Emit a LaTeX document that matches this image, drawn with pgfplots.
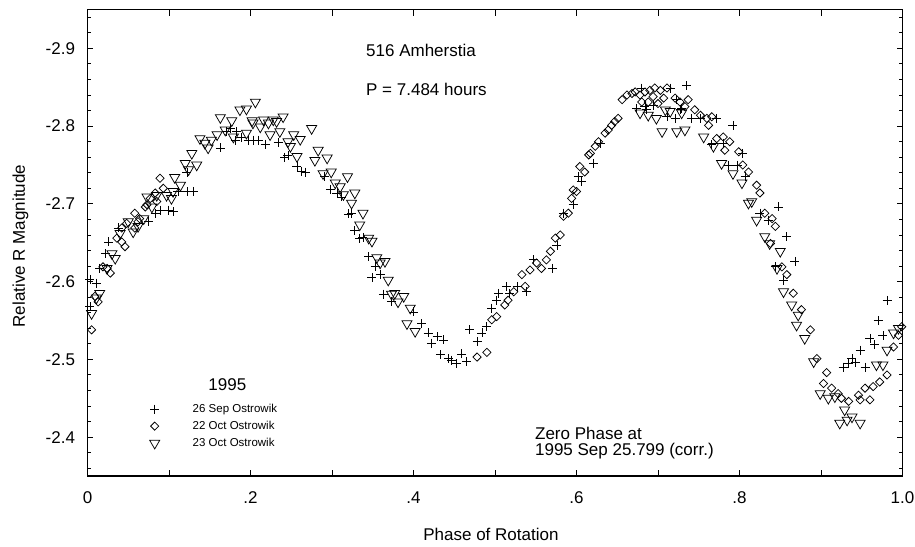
\documentclass[border=0pt]{standalone}
\usepackage{fontspec}
\setmainfont{Liberation Sans}
\usepackage{pgfplots}
\pgfplotsset{compat=1.18}
\pgfplotsset{mylegimg/.style={legend image code/.code={\path[draw=none,fill=none] (0pt,-1pt) rectangle (48.5pt,1pt); \draw[mark repeat=2,mark phase=2,##1] plot coordinates {(0pt,0pt) (12pt,0pt) (48.5pt,0pt)};}}}
\begin{document}
\begin{tikzpicture}[font=\fontsize{17}{20}\selectfont]
\useasboundingbox (0,0) rectangle (915pt,546pt);
\begin{axis}[
  at={(87.5pt,70pt)}, anchor=south west,
  scale only axis, width=815pt, height=466.5pt,
  xmin=0, xmax=1, ymin=-2.95, ymax=-2.35, y dir=reverse,
  axis line style={line width=1.4pt},
  tick align=inside,
  major tick length=6pt, minor tick length=4pt,
  tick style={line width=0.9pt, black},
  xtick={0,0.1,0.2,0.3,0.4,0.5,0.6,0.7,0.8,0.9,1},
  xticklabels={0,,.2,,.4,,.6,,.8,,1.0},
  ytick={-2.9,-2.8,-2.7,-2.6,-2.5,-2.4},
  yticklabels={-2.9,-2.8,-2.7,-2.6,-2.5,-2.4},
  minor ytick={-2.94,-2.92,-2.88,-2.86,-2.84,-2.82,-2.78,-2.76,-2.74,-2.72,-2.68,-2.66,-2.64,-2.62,-2.58,-2.56,-2.54,-2.52,-2.48,-2.46,-2.44,-2.42,-2.38,-2.36},
  tick label style={font=\fontsize{17}{20}\selectfont},
  xticklabel style={yshift=-12pt},
  yticklabel style={xshift=-9pt},
  xlabel={Phase of Rotation},
  ylabel={Relative R Magnitude},
  label style={font=\fontsize{17}{20}\selectfont},
  xlabel style={at={(axis description cs:0.495,-0.1393)}, anchor=base},
  ylabel style={at={(axis description cs:-0.0767,0.493)}, anchor=base},
  legend cell align=left,
  legend style={draw=none, fill=none, inner sep=0pt, at={(axis description cs:0.0675,0.1576)}, anchor=north west,
    font=\fontsize{11.5}{13}\selectfont, row sep=4.2pt, nodes={inner sep=1.5pt}},
]
\addplot[only marks, mylegimg, mark=+, mark size=4.5pt, line width=0.75pt, black] coordinates {
(0.003,-2.568) (0.003,-2.603) (0.011,-2.598) (0.015,-2.617) (0.022,-2.636) (0.026,-2.651) (0.038,-2.669) (0.075,-2.677) (0.083,-2.688) (0.089,-2.692) (0.099,-2.692) (0.105,-2.690) (0.111,-2.716) (0.122,-2.716) (0.130,-2.716) (0.122,-2.741) (0.163,-2.772) (0.171,-2.793) (0.175,-2.797) (0.183,-2.793) (0.189,-2.786) (0.181,-2.782) (0.197,-2.782) (0.203,-2.782) (0.210,-2.782) (0.218,-2.777) (0.234,-2.779) (0.242,-2.760) (0.246,-2.762) (0.257,-2.748) (0.263,-2.742) (0.267,-2.741) (0.291,-2.735) (0.298,-2.719) (0.306,-2.714) (0.312,-2.709) (0.320,-2.687) (0.324,-2.688) (0.328,-2.666) (0.334,-2.656) (0.338,-2.657) (0.345,-2.632) (0.353,-2.619) (0.359,-2.609) (0.349,-2.605) (0.363,-2.584) (0.373,-2.575) (0.400,-2.561) (0.410,-2.546) (0.418,-2.534) (0.429,-2.529) (0.437,-2.525) (0.422,-2.521) (0.433,-2.506) (0.443,-2.501) (0.447,-2.499) (0.453,-2.495) (0.459,-2.507) (0.465,-2.497) (0.469,-2.538) (0.478,-2.523) (0.484,-2.534) (0.490,-2.542) (0.496,-2.566) (0.502,-2.576) (0.504,-2.585) (0.514,-2.594) (0.518,-2.585) (0.527,-2.594) (0.539,-2.587) (0.547,-2.628) (0.570,-2.617) (0.576,-2.647) (0.584,-2.688) (0.596,-2.699) (0.606,-2.729) (0.602,-2.735) (0.621,-2.752) (0.629,-2.778) (0.680,-2.849) (0.715,-2.849) (0.735,-2.852) (0.674,-2.823) (0.684,-2.825) (0.694,-2.827) (0.686,-2.821) (0.711,-2.812) (0.721,-2.810) (0.723,-2.834) (0.727,-2.821) (0.729,-2.823) (0.741,-2.810) (0.752,-2.810) (0.772,-2.810) (0.792,-2.801) (0.766,-2.776) (0.780,-2.778) (0.786,-2.750) (0.797,-2.750) (0.807,-2.735) (0.804,-2.765) (0.825,-2.688) (0.848,-2.696) (0.835,-2.679) (0.858,-2.658) (0.844,-2.619) (0.868,-2.626) (0.854,-2.602) (0.927,-2.490) (0.934,-2.495) (0.938,-2.501) (0.942,-2.496) (0.954,-2.490) (0.948,-2.512) (0.960,-2.527) (0.966,-2.519) (0.976,-2.531) (0.970,-2.550) (0.981,-2.576)
};
\addlegendentry{26 Sep Ostrowik}
\addplot[only marks, mylegimg, mark=square, mark options={rotate=45}, mark size=2.9pt, line width=0.75pt, black] coordinates {
(0.005,-2.538) (0.009,-2.581) (0.013,-2.574) (0.019,-2.619) (0.024,-2.617) (0.028,-2.611) (0.036,-2.656) (0.042,-2.651) (0.046,-2.645) (0.042,-2.669) (0.048,-2.675) (0.058,-2.669) (0.062,-2.677) (0.058,-2.688) (0.064,-2.681) (0.071,-2.696) (0.073,-2.699) (0.077,-2.707) (0.083,-2.714) (0.085,-2.703) (0.089,-2.733) (0.093,-2.720) (0.478,-2.503) (0.490,-2.509) (0.496,-2.551) (0.502,-2.555) (0.512,-2.570) (0.516,-2.576) (0.523,-2.587) (0.533,-2.609) (0.537,-2.594) (0.543,-2.615) (0.551,-2.624) (0.557,-2.617) (0.563,-2.628) (0.568,-2.639) (0.574,-2.656) (0.580,-2.660) (0.584,-2.684) (0.590,-2.688) (0.594,-2.707) (0.600,-2.716) (0.596,-2.718) (0.604,-2.748) (0.610,-2.741) (0.615,-2.763) (0.617,-2.765) (0.623,-2.774) (0.627,-2.780) (0.635,-2.791) (0.639,-2.795) (0.643,-2.801) (0.647,-2.806) (0.651,-2.810) (0.656,-2.834) (0.662,-2.840) (0.668,-2.842) (0.672,-2.844) (0.678,-2.840) (0.684,-2.844) (0.690,-2.846) (0.696,-2.849) (0.703,-2.846) (0.707,-2.836) (0.711,-2.849) (0.688,-2.831) (0.694,-2.838) (0.680,-2.831) (0.700,-2.829) (0.721,-2.836) (0.727,-2.831) (0.733,-2.825) (0.737,-2.834) (0.745,-2.821) (0.752,-2.814) (0.760,-2.810) (0.766,-2.812) (0.762,-2.801) (0.772,-2.784) (0.780,-2.786) (0.788,-2.780) (0.782,-2.769) (0.799,-2.767) (0.804,-2.750) (0.811,-2.741) (0.821,-2.724) (0.825,-2.714) (0.831,-2.688) (0.840,-2.681) (0.844,-2.671) (0.838,-2.649) (0.852,-2.619) (0.858,-2.609) (0.866,-2.585) (0.876,-2.564) (0.887,-2.538) (0.895,-2.501) (0.907,-2.483) (0.903,-2.469) (0.913,-2.463) (0.921,-2.456) (0.925,-2.450) (0.934,-2.446) (0.946,-2.454) (0.954,-2.463) (0.948,-2.448) (0.960,-2.448) (0.964,-2.465) (0.972,-2.471) (0.981,-2.480) (0.989,-2.516) (0.995,-2.531) (0.999,-2.542)
};
\addlegendentry{22 Oct Ostrowik}
\addplot[only marks, mylegimg, mark=triangle, mark options={rotate=180}, mark size=5.8pt, line width=0.75pt, black] coordinates {
(0.005,-2.559) (0.011,-2.579) (0.015,-2.585) (0.024,-2.617) (0.030,-2.636) (0.034,-2.630) (0.040,-2.662) (0.050,-2.677) (0.056,-2.664) (0.062,-2.671) (0.069,-2.681) (0.073,-2.709) (0.079,-2.696) (0.085,-2.711) (0.097,-2.711) (0.103,-2.707) (0.105,-2.716) (0.107,-2.734) (0.114,-2.724) (0.120,-2.752) (0.124,-2.744) (0.128,-2.765) (0.134,-2.750) (0.138,-2.784) (0.144,-2.778) (0.148,-2.772) (0.152,-2.782) (0.159,-2.789) (0.163,-2.811) (0.169,-2.795) (0.177,-2.807) (0.187,-2.821) (0.195,-2.822) (0.202,-2.807) (0.206,-2.831) (0.179,-2.786) (0.195,-2.791) (0.203,-2.804) (0.216,-2.808) (0.228,-2.808) (0.240,-2.812) (0.236,-2.793) (0.253,-2.789) (0.212,-2.799) (0.224,-2.789) (0.222,-2.804) (0.232,-2.806) (0.246,-2.780) (0.261,-2.783) (0.249,-2.774) (0.257,-2.761) (0.275,-2.797) (0.283,-2.769) (0.279,-2.756) (0.294,-2.759) (0.289,-2.739) (0.299,-2.741) (0.304,-2.727) (0.310,-2.722) (0.314,-2.712) (0.319,-2.735) (0.328,-2.714) (0.324,-2.701) (0.338,-2.688) (0.334,-2.673) (0.345,-2.656) (0.349,-2.652) (0.355,-2.631) (0.359,-2.624) (0.365,-2.626) (0.369,-2.602) (0.373,-2.584) (0.377,-2.585) (0.381,-2.574) (0.388,-2.581) (0.396,-2.566) (0.392,-2.546) (0.402,-2.536) (0.678,-2.817) (0.688,-2.814) (0.698,-2.810) (0.709,-2.821) (0.705,-2.793) (0.723,-2.793) (0.733,-2.795) (0.715,-2.819) (0.729,-2.817) (0.756,-2.786) (0.768,-2.774) (0.778,-2.752) (0.792,-2.739) (0.803,-2.727) (0.811,-2.701) (0.815,-2.703) (0.821,-2.679) (0.831,-2.658) (0.837,-2.649) (0.850,-2.639) (0.846,-2.617) (0.854,-2.587) (0.864,-2.570) (0.872,-2.557) (0.870,-2.544) (0.880,-2.527) (0.891,-2.497) (0.899,-2.456) (0.909,-2.450) (0.917,-2.452) (0.923,-2.418) (0.932,-2.422) (0.938,-2.426) (0.948,-2.418) (0.929,-2.435) (0.968,-2.493) (0.976,-2.493) (0.981,-2.512) (0.989,-2.534) (0.995,-2.540)
};
\addlegendentry{23 Oct Ostrowik}
\node[anchor=base west, inner sep=0pt] at (axis description cs:0.3417,0.8999) {516 Amherstia};
\node[anchor=base west, inner sep=0pt] at (axis description cs:0.3417,0.8167) {P = 7.484 hours};
\node[anchor=base west, inner sep=0pt] at (axis description cs:0.1482,0.1829) {1995};
\node[anchor=base west, inner sep=0pt, align=left, font=\fontsize{17}{15.5}\selectfont] at (axis description cs:0.549,0.045) {Zero Phase at\\1995 Sep 25.799 (corr.)};
\end{axis}
\end{tikzpicture}
\end{document}
